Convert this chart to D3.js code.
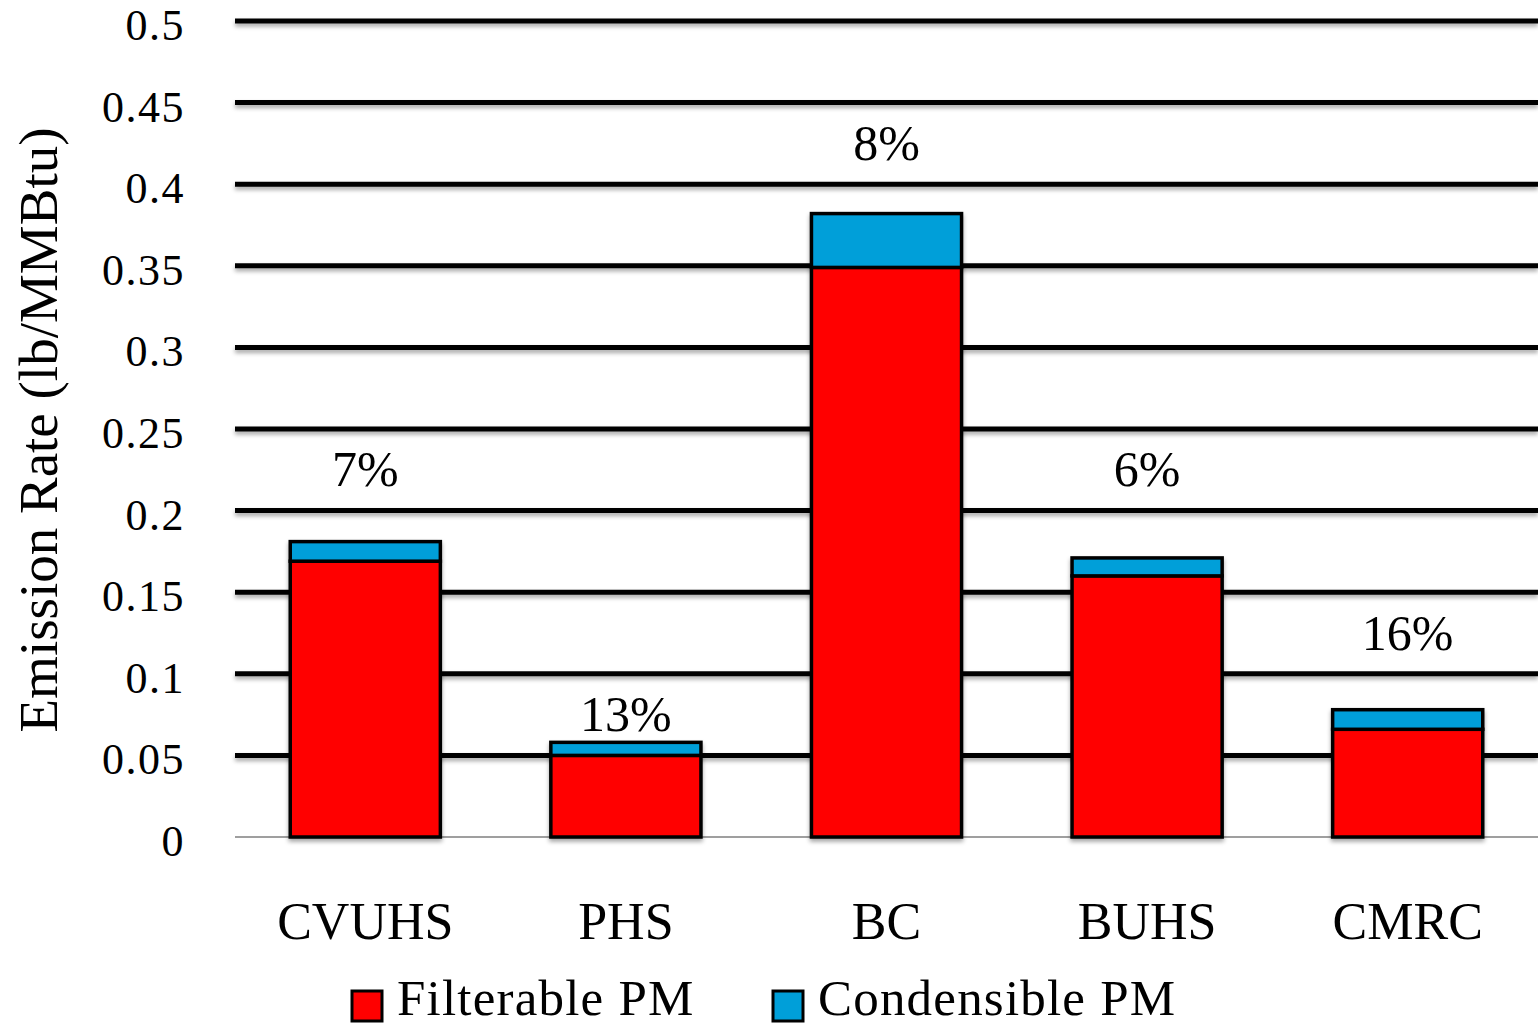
<!DOCTYPE html>
<html>
<head>
<meta charset="utf-8">
<script src="https://cdn.jsdelivr.net/npm/d3@7"></script>
<style>
  html, body { margin: 0; padding: 0; background: #ffffff; }
  svg { display: block; }
  text { font-family: "Liberation Serif", "DejaVu Serif", serif; fill: #000; }
</style>
</head>
<body>
<svg id="chart" width="1538" height="1028"></svg>
<script>
// Emission rates by site (lb/MMBtu)
const sites = ["CVUHS", "PHS", "BC", "BUHS", "CMRC"];
const filterable = [0.169, 0.050, 0.349, 0.160, 0.066];
const condensible = [0.012, 0.008, 0.033, 0.011, 0.012];
const shareLabels = ["7%", "13%", "8%", "6%", "16%"];
const yTicks = [0, 0.05, 0.1, 0.15, 0.2, 0.25, 0.3, 0.35, 0.4, 0.45, 0.5];
const tickText = ["0", "0.05", "0.1", "0.15", "0.2", "0.25", "0.3", "0.35", "0.4", "0.45", "0.5"];
const seriesNames = ["Filterable PM", "Condensible PM"];
const seriesColors = ["#ff0000", "#009fd9"];

const svg = d3.select("#chart");
const W = 1538, H = 1028;
const margin = { left: 235, right: 0, top: 21, bottom: 191 };
const step = 0.05;

const x = d3.scaleBand().domain(sites).range([margin.left, W - margin.right]).paddingInner(0.424).paddingOuter(0.212);
const y = d3.scaleLinear().domain([0, 0.5]).range([H - margin.bottom, margin.top]);

// soft shadow used by grid lines and bars
const defs = svg.append("defs");
const f = defs.append("filter").attr("id", "shadow").attr("x", "-5%").attr("y", "-50%").attr("width", "110%").attr("height", "200%");
f.append("feDropShadow").attr("dx", 0).attr("dy", 3).attr("stdDeviation", 2).attr("flood-color", "#000").attr("flood-opacity", 0.35);

// horizontal grid lines
const grid = svg.append("g").attr("filter", "url(#shadow)");
grid.selectAll("line").data(yTicks.filter(d => d > 0)).join("line")
  .attr("x1", margin.left).attr("x2", W)
  .attr("y1", d => y(d)).attr("y2", d => y(d))
  .attr("stroke", "#000").attr("stroke-width", 5);

// category axis line at zero
svg.append("line").attr("x1", margin.left).attr("x2", W)
  .attr("y1", y(0)).attr("y2", y(0)).attr("stroke", "#7f7f7f").attr("stroke-width", 1.5);

// y axis labels
const yAxis = d3.axisLeft(y).tickValues(yTicks).tickFormat((d, i) => tickText[i]).tickSize(0).tickPadding(0);
const ya = svg.append("g").attr("transform", `translate(185,0)`).call(yAxis);
ya.select(".domain").remove();
ya.selectAll("text").style("font-family", '"Liberation Serif", serif').style("font-size", "44px")
  .style("letter-spacing", "1.5px")
  .attr("fill", "#000").attr("dy", "0.42em");

// stacked bars
const stacked = d3.stack().keys([0, 1]).value((d, k) => d[k])(sites.map((s, i) => [filterable[i], condensible[i]]));
const bars = svg.append("g").attr("filter", "url(#shadow)");
stacked.forEach((layer, li) => {
  bars.selectAll(null).data(layer).join("rect")
    .attr("x", (d, i) => x(sites[i]))
    .attr("width", x.bandwidth())
    .attr("y", d => y(d[1]))
    .attr("height", d => y(d[0]) - y(d[1]))
    .attr("fill", seriesColors[li])
    .attr("stroke", "#000").attr("stroke-width", 3.5);
});

// condensible share labels, centred in the grid band just above each bar
const labelValue = i => {
  const band = Math.floor((filterable[i] + condensible[i] + 0.03) / step);
  return (band + 0.5) * step;
};
svg.append("g").selectAll("text").data(shareLabels).join("text")
  .attr("x", (d, i) => x(sites[i]) + x.bandwidth() / 2)
  .attr("y", (d, i) => y(labelValue(i)))
  .attr("dy", "0.33em")
  .attr("text-anchor", "middle").style("font-size", "50px")
  .text(d => d);

// category labels
const xAxis = d3.axisBottom(x).tickSize(0).tickPadding(0);
const xa = svg.append("g").attr("transform", `translate(0,${y(0)})`).call(xAxis);
xa.select(".domain").remove();
xa.selectAll("text").style("font-family", '"Liberation Serif", serif').style("font-size", "52px")
  .attr("fill", "#000").attr("y", 102).attr("dy", 0);

// y axis title
svg.append("text")
  .attr("transform", `translate(57,${(y(0) + y(0.5)) / 2 + 1}) rotate(-90)`)
  .attr("text-anchor", "middle").style("font-size", "55px")
  .text("Emission Rate (lb/MMBtu)");

// legend
const legendX = [352, 773];
const lg = svg.append("g");
seriesNames.forEach((name, i) => {
  lg.append("rect").attr("x", legendX[i]).attr("y", 991).attr("width", 30).attr("height", 30)
    .attr("fill", seriesColors[i]).attr("stroke", "#000").attr("stroke-width", 3);
  lg.append("text").attr("x", legendX[i] + 45).attr("y", 1015)
    .style("font-size", "51px").style("letter-spacing", "1.2px").text(name);
});
</script>
</body>
</html>
